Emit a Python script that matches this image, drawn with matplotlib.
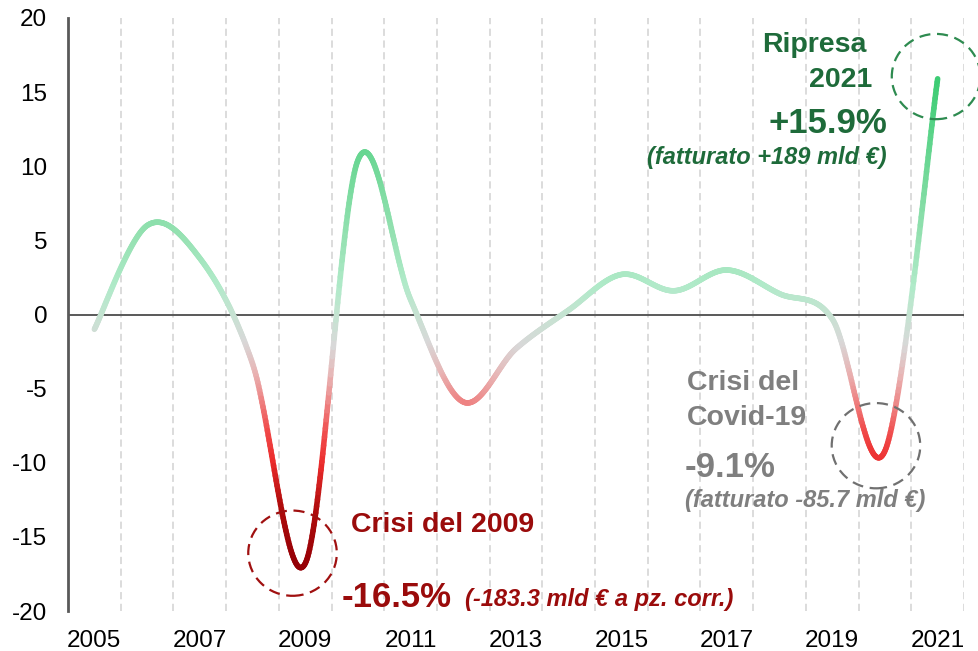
import numpy as np
import matplotlib
matplotlib.use('Agg')
import matplotlib.pyplot as plt
from matplotlib.collections import LineCollection
from matplotlib.colors import LinearSegmentedColormap, Normalize
from matplotlib.patches import Ellipse

plt.rcParams['font.family'] = ['Liberation Sans', 'DejaVu Sans']
plt.rcParams['axes.unicode_minus'] = False

# variazione % annua del fatturato
years = list(range(2005, 2022))
values = [-1.0, 6.0, 3.8, -3.3, -16.8, 10.4, 1.0, -5.9, -2.3, 0.3,
          2.7, 1.6, 3.0, 1.4, -0.3, -9.2, 15.9]
tick_years = [2005, 2007, 2009, 2011, 2013, 2015, 2017, 2019, 2021]

GREEN = '#1e6b3a'
RED = '#9a0b0b'
GREY = '#7f7f7f'

W, H = 979, 651


def px(x, y):
    return x / W, 1 - y / H


def smooth(xs, ys, n=60):
    # Bezier smoothing like a spreadsheet "smoothed line" (Catmull-Rom)
    p = np.column_stack([xs, ys]).astype(float)
    pts = []
    for i in range(len(p) - 1):
        p0 = p[i - 1] if i > 0 else p[i]
        p1, p2 = p[i], p[i + 1]
        p3 = p[i + 2] if i + 2 < len(p) else p[i + 1]
        c1 = p1 + (p2 - p0) / 6
        c2 = p2 - (p3 - p1) / 6
        t = np.linspace(0, 1, n, endpoint=False)[:, None]
        seg = ((1 - t) ** 3) * p1 + 3 * ((1 - t) ** 2) * t * c1 + 3 * (1 - t) * t ** 2 * c2 + t ** 3 * p2
        pts.append(seg)
    pts.append(p[-1:])
    return np.vstack(pts)


cmap = LinearSegmentedColormap.from_list('grad', [
    (0.0, '#950006'),
    (4 / 33, '#b00c0c'),
    (7 / 33, '#ec2d2d'),
    (9 / 33, '#f04a4a'),
    (11 / 33, '#ee8282'),
    (13 / 33, '#e8b5b5'),
    (15 / 33, '#d8d8d8'),
    (17 / 33, '#c6e3d2'),
    (19 / 33, '#b0eac9'),
    (22 / 33, '#98e2b4'),
    (27 / 33, '#6fd897'),
    (1.0, '#3ccc73'),
])
norm = Normalize(-17, 16)

fig = plt.figure(figsize=(W / 100, H / 100), dpi=100)
ax = fig.add_axes([68 / W, 1 - 611 / H, (964 - 68) / W, (611 - 18) / H])

xs = np.arange(len(years))
curve = smooth(xs, values)
segs = np.stack([curve[:-1], curve[1:]], axis=1)
mid = (curve[:-1, 1] + curve[1:, 1]) / 2
lc = LineCollection(segs, colors=cmap(norm(mid)), linewidths=4, capstyle='round', zorder=3)
ax.add_collection(lc)

ax.set_xlim(-0.5, len(years) - 0.5)
ax.set_ylim(-20, 20)
ax.set_yticks(range(-20, 21, 5))
ax.set_xticks([years.index(y) for y in tick_years])
ax.set_xticklabels([str(y) for y in tick_years])
ax.tick_params(length=0, labelsize=17.5, colors='#000000')
ax.tick_params(axis='y', pad=15)
ax.tick_params(axis='x', pad=14)

for b in np.arange(0.5, len(years), 1):
    ax.axvline(b, color='#d9d9d9', lw=1.3, ls=(0, (4, 2.5)), zorder=1)
ax.axhline(0, color='#595959', lw=1.4, zorder=2)

for s in ['top', 'right', 'bottom']:
    ax.spines[s].set_visible(False)
ax.spines['left'].set_color('#595959')
ax.spines['left'].set_linewidth(2)

# dashed circles
circles = [
    (3.76, -16.1, '#a01010'),
    (14.83, -8.85, '#707070'),
    (15.97, 16.05, '#2e8b50'),
]
for cx, cy, col in circles:
    e = Ellipse((cx, cy), 1.68, 5.75, fill=False, ec=col, lw=1.6,
                ls=(0, (5, 3)), clip_on=False, zorder=4)
    ax.add_patch(e)

# annotations
fig.text(*px(867, 51.7), 'Ripresa', ha='right', va='baseline', color=GREEN, fontsize=20.5, fontweight='bold')
fig.text(*px(872, 87.3), '2021', ha='right', va='baseline', color=GREEN, fontsize=20.5, fontweight='bold')
fig.text(*px(887, 133.3), '+15.9%', ha='right', va='baseline', color=GREEN, fontsize=25, fontweight='bold')
fig.text(*px(887, 164), '(fatturato +189 mld €)', ha='right', va='baseline', color=GREEN,
         fontsize=17, fontweight='bold', fontstyle='italic')

fig.text(*px(351, 531.7), 'Crisi del 2009', ha='left', va='baseline', color=RED, fontsize=20.5, fontweight='bold')
fig.text(*px(342, 606.7), '-16.5%', ha='left', va='baseline', color=RED, fontsize=25, fontweight='bold')
fig.text(*px(465, 606), '(-183.3 mld € a pz. corr.)', ha='left', va='baseline', color=RED,
         fontsize=17, fontweight='bold', fontstyle='italic')

fig.text(*px(687, 390), 'Crisi del', ha='left', va='baseline', color=GREY, fontsize=20.5, fontweight='bold')
fig.text(*px(687, 425), 'Covid-19', ha='left', va='baseline', color=GREY, fontsize=20.5, fontweight='bold')
fig.text(*px(685, 476.7), '-9.1%', ha='left', va='baseline', color=GREY, fontsize=25, fontweight='bold')
fig.text(*px(685, 506.7), '(fatturato -85.7 mld €)', ha='left', va='baseline', color=GREY,
         fontsize=17, fontweight='bold', fontstyle='italic')

fig.savefig('out.png', dpi=100)
